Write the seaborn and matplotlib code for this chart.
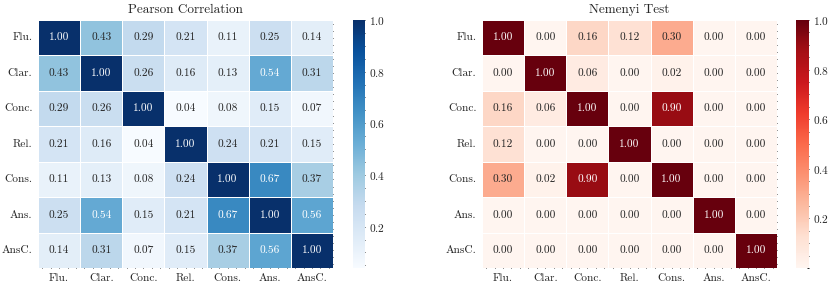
import numpy as np
import pandas as pd
import matplotlib
matplotlib.use("Agg")
import matplotlib.pyplot as plt
from matplotlib.ticker import AutoMinorLocator
import seaborn as sns

labels = ["Flu.", "Clar.", "Conc.", "Rel.", "Cons.", "Ans.", "AnsC."]

pearson_flu = [1.00, 0.43, 0.29, 0.21, 0.11, 0.25, 0.14]
pearson_clar = [0.43, 1.00, 0.26, 0.16, 0.13, 0.54, 0.31]
pearson_conc = [0.29, 0.26, 1.00, 0.04, 0.08, 0.15, 0.07]
pearson_rel = [0.21, 0.16, 0.04, 1.00, 0.24, 0.21, 0.15]
pearson_cons = [0.11, 0.13, 0.08, 0.24, 1.00, 0.67, 0.37]
pearson_ans = [0.25, 0.54, 0.15, 0.21, 0.67, 1.00, 0.56]
pearson_ansc = [0.14, 0.31, 0.07, 0.15, 0.37, 0.56, 1.00]

nemenyi_flu = [1.00, 0.00, 0.16, 0.12, 0.30, 0.00, 0.00]
nemenyi_clar = [0.00, 1.00, 0.06, 0.00, 0.02, 0.00, 0.00]
nemenyi_conc = [0.16, 0.06, 1.00, 0.00, 0.90, 0.00, 0.00]
nemenyi_rel = [0.12, 0.00, 0.00, 1.00, 0.00, 0.00, 0.00]
nemenyi_cons = [0.30, 0.02, 0.90, 0.00, 1.00, 0.00, 0.00]
nemenyi_ans = [0.00, 0.00, 0.00, 0.00, 0.00, 1.00, 0.00]
nemenyi_ansc = [0.00, 0.00, 0.00, 0.00, 0.00, 0.00, 1.00]

cbar_ticks = [0.2, 0.4, 0.6, 0.8, 1.0]

pearson = pd.DataFrame([pearson_flu, pearson_clar, pearson_conc, pearson_rel,
                        pearson_cons, pearson_ans, pearson_ansc],
                       index=labels, columns=labels)
nemenyi = pd.DataFrame([nemenyi_flu, nemenyi_clar, nemenyi_conc, nemenyi_rel,
                        nemenyi_cons, nemenyi_ans, nemenyi_ansc],
                       index=labels, columns=labels)

sns.set_style("white")
plt.rcParams["font.family"] = ["cmr10", "DejaVu Serif"]
plt.rcParams["axes.formatter.use_mathtext"] = True
plt.rcParams["mathtext.fontset"] = "cm"

W, H = 831, 287
fig = plt.figure(figsize=(W / 100, H / 100), dpi=100)

def box(x0, y0, x1, y1):
    return [x0 / W, 1 - y1 / H, (x1 - x0) / W, (y1 - y0) / H]

panels = [
    (pearson, "Blues", "Pearson Correlation", (38, 20, 333, 268), (353, 20, 365, 268)),
    (nemenyi, "Reds", "Nemenyi Test", (482, 20, 777, 268), (796, 20, 809, 268)),
]

for data, cmap, title, ab, cb in panels:
    ax = fig.add_axes(box(*ab))
    cax = fig.add_axes(box(*cb))
    sns.heatmap(data, ax=ax, cbar_ax=cax, cmap=cmap, annot=True, fmt=".2f",
                linewidths=0.6, linecolor="white",
                annot_kws={"fontsize": 8.2})
    ax.set_title(title, fontsize=9.5, pad=5)
    ax.set_xticklabels(labels, rotation=0, fontsize=8.2)
    ax.set_yticklabels(labels, rotation=0, fontsize=8.2)
    ax.xaxis.set_minor_locator(AutoMinorLocator())
    ax.yaxis.set_minor_locator(AutoMinorLocator())
    ax.tick_params(which="both", direction="in", top=True, right=True,
                   bottom=True, left=True, width=0.7, color="#222222")
    ax.tick_params(which="major", length=3, pad=4)
    ax.tick_params(which="minor", length=1.6)
    cax.set_yticks(cbar_ticks)
    cax.yaxis.set_minor_locator(AutoMinorLocator())
    cax.tick_params(which="both", direction="in", width=0.7, color="#222222",
                    labelsize=8.2, right=True)
    cax.tick_params(which="major", length=3, pad=3)
    cax.tick_params(which="minor", length=1.6)

fig.savefig("out.png", dpi=100)
